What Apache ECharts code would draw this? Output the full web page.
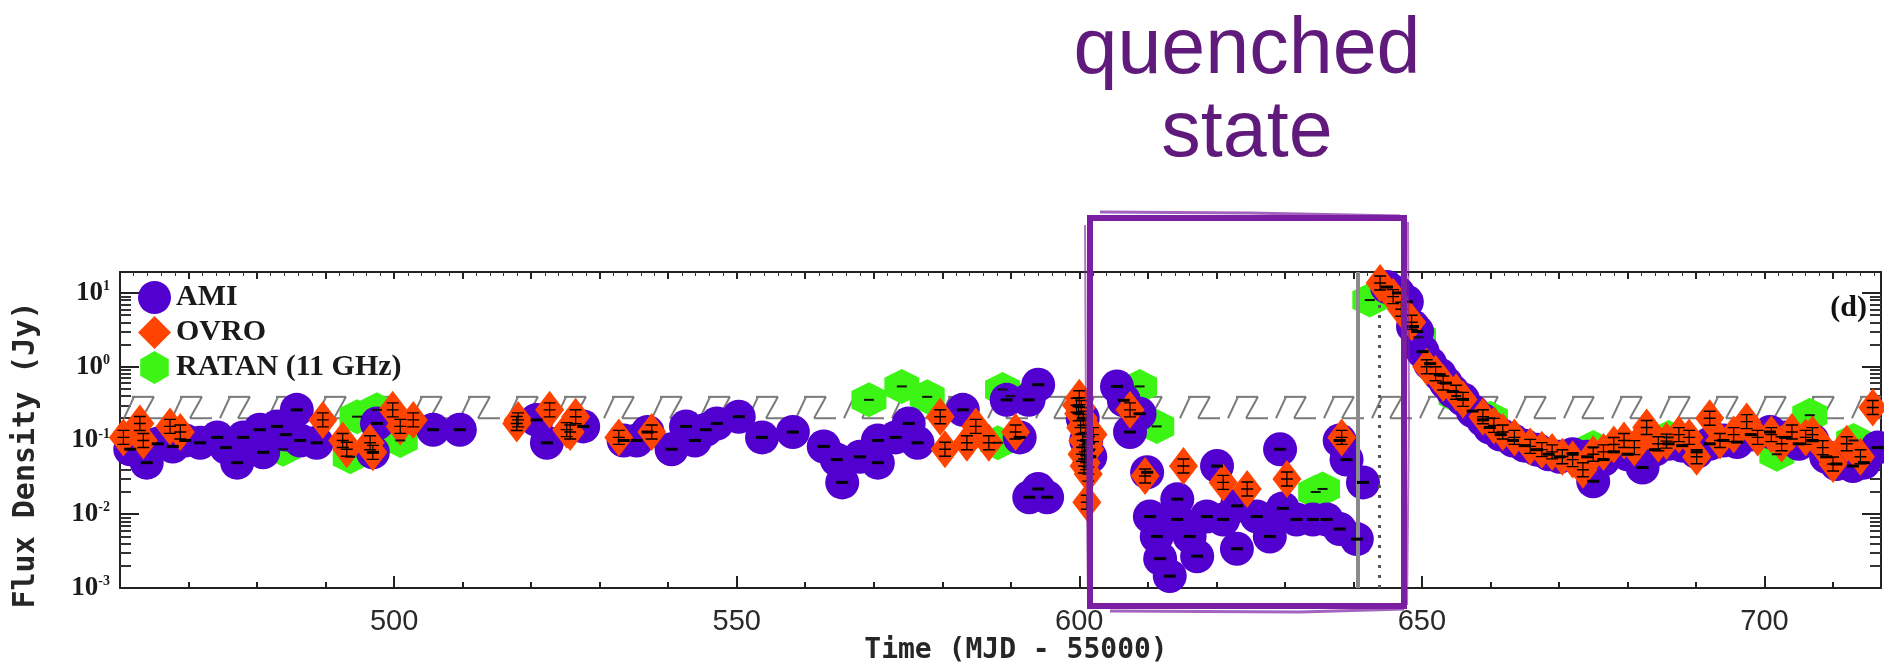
<!DOCTYPE html>
<html>
<head>
<meta charset="utf-8">
<script src="https://cdn.jsdelivr.net/npm/echarts@6/dist/echarts.min.js"></script>
<style>
  html, body { margin: 0; padding: 0; background: #fff; }
  #grafico { width: 1884px; height: 666px; }
</style>
</head>
<body>
<div id="grafico"></div>
<script>
// Time (MJD - 55000) and flux density (Jy)
const amiTime = [461.5, 463.9, 465.5, 467.7, 469.5, 471.7, 474.2, 475.5, 477.1, 478.0, 480.4, 480.9, 482.9, 484.2, 485.8, 486.3, 488.7,
  496.9, 497.5, 505.7, 509.6, 520.8, 522.3, 527.6, 533.5, 535.4, 537.0, 540.5, 542.6, 543.9, 545.5, 547.1, 550.3, 553.7, 558.2,
  562.7, 564.6, 565.4, 568.0, 570.6, 570.6, 573.2, 575.1, 576.4, 583.0, 589.4, 591.3, 592.6, 592.7, 594.0, 594.0, 595.3,
  600.5, 601.0, 601.6, 605.5, 606.5, 607.4, 608.8, 609.9, 610.3, 611.3, 611.8, 613.2, 614.3, 614.3, 616.1, 617.2, 618.6, 620.1,
  621.0, 623.0, 623.0, 625.9, 627.8, 629.3, 629.7, 631.7, 634.1, 636.1, 638.0, 638.0, 639.0, 640.5, 641.4,
  644.9, 646.5, 647.8, 648.7, 649.3, 650.1, 651.2, 652.6, 653.5, 654.5, 656.0, 657.4, 658.9, 659.9, 661.5, 663.3, 665.0, 666.8,
  668.5, 670.1, 672.0, 674.1, 675.0, 676.5, 678.0, 680.0, 682.2, 684.0, 686.0, 688.0, 690.1, 692.0, 694.0, 696.0, 698.0,
  700.8, 703.0, 705.0, 707.0, 709.0, 710.5, 712.9, 714.5, 716.5];
const amiFlux = [0.076, 0.05, 0.09, 0.083, 0.1, 0.093, 0.11, 0.08, 0.05, 0.11, 0.14, 0.069, 0.155, 0.12, 0.26, 0.10, 0.093,
  0.069, 0.17, 0.14, 0.14, 0.19, 0.093, 0.155, 0.10, 0.10, 0.13, 0.076, 0.155, 0.10, 0.14, 0.17, 0.21, 0.11, 0.13,
  0.083, 0.055, 0.027, 0.06, 0.05, 0.10, 0.11, 0.17, 0.093, 0.26, 0.355, 0.11, 0.355, 0.017, 0.57, 0.022, 0.017,
  0.2, 0.1, 0.06, 0.54, 0.35, 0.13, 0.23, 0.037, 0.0093, 0.005, 0.0025, 0.00145, 0.016, 0.0085, 0.005, 0.0027, 0.0093, 0.045,
  0.0085, 0.0034, 0.013, 0.0093, 0.005, 0.076, 0.012, 0.0085, 0.0085, 0.0085, 0.0063, 0.10, 0.055, 0.0046, 0.027,
  12, 10, 7.6, 3.5, 3.0, 1.6, 1.1, 0.78, 0.6, 0.46, 0.36, 0.25, 0.19, 0.15, 0.12, 0.10, 0.085, 0.075,
  0.065, 0.06, 0.065, 0.06, 0.028, 0.055, 0.07, 0.065, 0.043, 0.075, 0.09, 0.085, 0.07, 0.09, 0.10, 0.095, 0.12,
  0.13, 0.11, 0.09, 0.10, 0.06, 0.048, 0.045, 0.05, 0.08];

const ovroTime = [460.5, 462.9, 463.4, 467.3, 468.8, 489.6, 492.5, 493.1, 496.5, 496.9, 499.8, 500.9, 502.8, 517.9, 518.1,
  522.7, 525.2, 525.7, 526.5, 532.8, 537.6, 579.7, 580.4, 583.6, 584.9, 586.8, 590.7,
  599.6, 599.9, 600.0, 600.2, 600.3, 600.4, 600.5, 600.6, 600.7, 600.8, 600.9, 601.0, 601.2, 601.3, 601.4, 601.5, 601.1, 602.0,
  607.4, 609.6, 615.2, 621.0, 624.5, 630.3, 638.3,
  643.9, 645.8, 647.0, 648.5, 650.7, 652.0, 653.1, 655.0, 656.0, 658.9, 660.5, 661.8, 663.5, 665.8, 667.5, 669.0, 670.5,
  672.0, 673.5, 675.0, 676.5, 678.0, 679.5, 681.0, 682.8, 684.5, 685.7, 687.5, 689.0, 690.1, 692.0, 693.5, 695.5, 697.4,
  699.0, 701.0, 702.5, 704.0, 706.0, 707.0, 708.5, 710.0, 712.0, 714.0, 715.8];
const ovroFlux = [0.11, 0.17, 0.10, 0.155, 0.13, 0.19, 0.10, 0.076, 0.093, 0.069, 0.26, 0.155, 0.19, 0.17, 0.19,
  0.26, 0.14, 0.13, 0.21, 0.11, 0.13, 0.21, 0.076, 0.093, 0.155, 0.093, 0.13,
  0.30, 0.23, 0.38, 0.15, 0.28, 0.065, 0.10, 0.2, 0.045, 0.07, 0.16, 0.05, 0.12, 0.035, 0.09, 0.076, 0.0145, 0.12,
  0.26, 0.033, 0.045, 0.027, 0.022, 0.03, 0.11,
  13.6, 8.9, 6.0, 4.0, 1.0, 0.8, 0.6, 0.45, 0.36, 0.21, 0.16, 0.13, 0.11, 0.083, 0.075, 0.07, 0.06,
  0.055, 0.04, 0.065, 0.07, 0.088, 0.10, 0.08, 0.15, 0.09, 0.098, 0.12, 0.11, 0.06, 0.20, 0.10, 0.12, 0.18,
  0.11, 0.12, 0.09, 0.13, 0.11, 0.12, 0.08, 0.048, 0.09, 0.06, 0.28];

const ratanTime = [483.8, 493.6, 494.6, 497.5, 500.9, 569.3, 574.1, 577.8, 588.1, 588.8, 590.0, 608.8, 611.3, 634.5, 635.5,
  642.4, 649.5, 655.0, 660.0, 675.0, 686.0, 701.8, 706.6, 713.0];
const ratanFlux = [0.076, 0.06, 0.21, 0.26, 0.10, 0.355, 0.54, 0.39, 0.093, 0.49, 0.40, 0.54, 0.155, 0.02, 0.022,
  8.0, 2.5, 0.4, 0.2, 0.08, 0.11, 0.065, 0.22, 0.10];

// hatched reference band (Jy) and the two vertical markers (MJD - 55000)
const bandFlux = [0.2, 0.39];
const solidLineTime = 640.6;
const dottedLineTime = 643.8;

// axis ticks
const xMin = 460, xMax = 717;
const yMin = 0.001, yMax = 19.2;
const xMajorTicks = [500, 550, 600, 650, 700];
const yMajorTicks = [0.001, 0.01, 0.1, 1, 10];
const yMinorTicks = [];
yMajorTicks.forEach(d => { for (let m = 2; m <= 9; m++) if (d * m < yMax) yMinorTicks.push(+(d * m).toPrecision(2)); });

const corAmi = '#5200cf';
const corOvro = '#ff4300';
const corRatan = '#3cf514';
const hexagono = 'path://M0,-10L8.66,-5L8.66,5L0,10L-8.66,5L-8.66,-5Z';
const barraOvro = 'path://M0,0L10,0M5,0L5,14M0,14L10,14M0,7L10,7';

const juntar = (t, f) => t.map((v, i) => [v, f[i]]);
const dadosAmi = juntar(amiTime, amiFlux);
const dadosOvro = juntar(ovroTime, ovroFlux);
const dadosRatan = juntar(ratanTime, ratanFlux);

const grafico = echarts.init(document.getElementById('grafico'));

// Hatched band: two dashed edges joined by slanted strokes
function desenharFaixa(params, api) {
  const cs = params.coordSys;
  const yTopo = api.coord([xMin, api.value(1)])[1];
  const yBase = api.coord([xMin, api.value(0)])[1];
  const direita = cs.x + cs.width;
  const estilo = { stroke: '#7a7a7a', lineWidth: 2 };
  const filhos = [];
  const seg = (x1, y1, x2, y2) => {
    if (x1 >= direita) return;
    if (x2 > direita) { y2 = y1 + (y2 - y1) * (direita - x1) / (x2 - x1); x2 = direita; }
    filhos.push({ type: 'line', shape: { x1, y1, x2, y2 }, style: estilo });
  };
  for (let p = cs.x + 4; p < direita; p += 48) {
    seg(p + 8, yTopo, p + 30, yTopo);
    seg(p + 30, yTopo, p + 18, yBase);
    seg(p + 18, yBase, p + 40, yBase);
    seg(p + 0, yBase, p + 10, yTopo);
  }
  return { type: 'group', children: filhos };
}

const eixoX = (extra) => Object.assign({
  type: 'value', min: xMin, max: xMax, interval: 10, gridIndex: 0,
  splitLine: { show: false },
  axisLine: { show: true, onZero: false, lineStyle: { color: '#222', width: 2 } }
}, extra);

const eixoY = (extra) => Object.assign({
  type: 'log', logBase: 10, min: yMin, max: yMax,
  splitLine: { show: false }, minorSplitLine: { show: false },
  axisLine: { show: true, lineStyle: { color: '#222', width: 2 } }
}, extra);

const opcoes = {
  animation: false,
  backgroundColor: '#fff',
  grid: { left: 120, right: 3, top: 272, bottom: 78 },
  legend: {
    data: ['AMI', 'OVRO', 'RATAN (11 GHz)'],
    orient: 'vertical', left: 133, top: 276,
    itemWidth: 33, itemHeight: 33, itemGap: 2,
    selectedMode: false,
    textStyle: { fontFamily: 'Liberation Serif', fontWeight: 'bold', fontSize: 30, color: '#1a1a1a' }
  },
  xAxis: [
    eixoX({
      position: 'bottom',
      axisTick: { inside: true, length: 6, lineStyle: { color: '#222', width: 2 } },
      axisLabel: {
        margin: 19, fontFamily: 'Liberation Sans', fontSize: 29, color: '#2a2a2a',
        formatter: v => (v % 50 === 0 ? String(v) : '')
      }
    }),
    eixoX({
      position: 'bottom',
      axisLine: { show: false },
      axisTick: { inside: true, length: 12, customValues: xMajorTicks, lineStyle: { color: '#222', width: 2 } },
      axisLabel: { show: false }
    }),
    eixoX({
      position: 'top',
      axisTick: { inside: true, length: 7, lineStyle: { color: '#222', width: 2 } },
      minorTick: { show: true, splitNumber: 5, length: 4, lineStyle: { color: '#333', width: 1 } },
      axisLabel: { show: false }
    })
  ],
  yAxis: [
    eixoY({
      position: 'left',
      axisTick: { inside: true, length: 19, customValues: yMajorTicks, lineStyle: { color: '#222', width: 2 } },
      axisLabel: {
        customValues: yMajorTicks, margin: 10,
        formatter: v => '{b|10}{s|' + Math.round(Math.log10(v)) + '}',
        rich: {
          b: { fontFamily: 'Liberation Serif', fontWeight: 'bold', fontSize: 27, color: '#1a1a1a' },
          s: { fontFamily: 'Liberation Serif', fontWeight: 'bold', fontSize: 14, color: '#1a1a1a', verticalAlign: 'top' }
        }
      }
    }),
    eixoY({
      position: 'left', axisLine: { show: false },
      axisTick: { inside: true, length: 11, customValues: yMinorTicks, lineStyle: { color: '#333', width: 2 } },
      axisLabel: { show: false }
    }),
    eixoY({
      position: 'right',
      axisTick: { inside: true, length: 19, customValues: yMajorTicks, lineStyle: { color: '#222', width: 2 } },
      axisLabel: { show: false }
    }),
    eixoY({
      position: 'right', axisLine: { show: false },
      axisTick: { inside: true, length: 11, customValues: yMinorTicks, lineStyle: { color: '#333', width: 2 } },
      axisLabel: { show: false }
    })
  ],
  series: [
    {
      name: 'faixa', type: 'custom', renderItem: desenharFaixa, silent: true, z: 1,
      data: [[bandFlux[0], bandFlux[1]]]
    },
    {
      name: 'marcas', type: 'line', data: [], z: 2, silent: true,
      markLine: {
        silent: true, symbol: ['none', 'none'], label: { show: false },
        data: [
          { xAxis: solidLineTime, lineStyle: { color: '#8a8a8a', width: 4, type: 'solid' } },
          { xAxis: dottedLineTime, lineStyle: { color: '#555', width: 3, type: [3, 7] } }
        ]
      }
    },
    {
      name: 'RATAN (11 GHz)', type: 'scatter', data: dadosRatan, z: 3,
      symbol: hexagono, symbolSize: 35, itemStyle: { color: corRatan, opacity: 1 }
    },
    {
      name: 'AMI', type: 'scatter', data: dadosAmi, z: 4,
      symbol: 'circle', symbolSize: 34, itemStyle: { color: corAmi, opacity: 1 }
    },
    {
      name: 'OVRO', type: 'scatter', data: dadosOvro, z: 5,
      symbol: 'diamond', symbolSize: [29, 38], itemStyle: { color: corOvro, opacity: 1 }
    },
    // error bars drawn over the markers
    {
      name: 'erroRatan', type: 'scatter', data: dadosRatan, z: 6, silent: true,
      symbol: 'rect', symbolSize: [10, 2], itemStyle: { color: '#111', opacity: 1 }
    },
    {
      name: 'erroAmi', type: 'scatter', data: dadosAmi, z: 6, silent: true,
      symbol: 'rect', symbolSize: [12, 3], itemStyle: { color: '#000', opacity: 1 }
    },
    {
      name: 'erroOvro', type: 'scatter', data: dadosOvro, z: 7, silent: true,
      symbol: barraOvro, symbolSize: [12, 14],
      itemStyle: { color: 'rgba(0,0,0,0)', borderColor: '#000', borderWidth: 1.3, opacity: 1 }
    }
  ],
  graphic: [
    {
      type: 'text', x: 26, y: 455, rotation: Math.PI / 2, silent: true,
      style: { text: 'Flux Density (Jy)', font: 'bold 30px "DejaVu Sans Mono"', fill: '#262626', align: 'center', verticalAlign: 'middle' }
    },
    {
      type: 'text', x: 1016, y: 651, silent: true,
      style: { text: 'Time (MJD - 55000)', font: 'bold 28px "DejaVu Sans Mono"', fill: '#262626', align: 'center', verticalAlign: 'middle' }
    },
    {
      type: 'text', x: 1867, y: 308, silent: true,
      style: { text: '(d)', font: 'bold 30px "Liberation Serif"', fill: '#111', align: 'right', verticalAlign: 'middle' }
    },
    {
      type: 'text', x: 1247, y: 51, silent: true,
      style: { text: 'quenched', font: '79px "Liberation Sans"', fill: '#5f1a7b', align: 'center', verticalAlign: 'middle' }
    },
    {
      type: 'text', x: 1247, y: 134, silent: true,
      style: { text: 'state', font: '79px "Liberation Sans"', fill: '#5f1a7b', align: 'center', verticalAlign: 'middle' }
    },
    // hand-drawn box around the quenched interval
    {
      type: 'rect', silent: true, z: 100,
      shape: { x: 1090, y: 218, width: 314, height: 388 },
      style: { fill: 'none', stroke: '#7b1fa2', lineWidth: 6 }
    },
    {
      type: 'polyline', silent: true, z: 100,
      shape: { points: [[1100, 212], [1250, 213], [1400, 216]] },
      style: { fill: 'none', stroke: '#7b1fa2', lineWidth: 3, opacity: 0.7 }
    },
    {
      type: 'polyline', silent: true, z: 100,
      shape: { points: [[1110, 611], [1300, 612], [1404, 609]] },
      style: { fill: 'none', stroke: '#7b1fa2', lineWidth: 3, opacity: 0.7 }
    },
    {
      type: 'polyline', silent: true, z: 100,
      shape: { points: [[1085, 225], [1086, 420], [1088, 600]] },
      style: { fill: 'none', stroke: '#7b1fa2', lineWidth: 2, opacity: 0.6 }
    },
    {
      type: 'polyline', silent: true, z: 100,
      shape: { points: [[1408, 222], [1409, 420], [1407, 605]] },
      style: { fill: 'none', stroke: '#7b1fa2', lineWidth: 2, opacity: 0.6 }
    }
  ]
};

grafico.setOption(opcoes);
</script>
</body>
</html>
